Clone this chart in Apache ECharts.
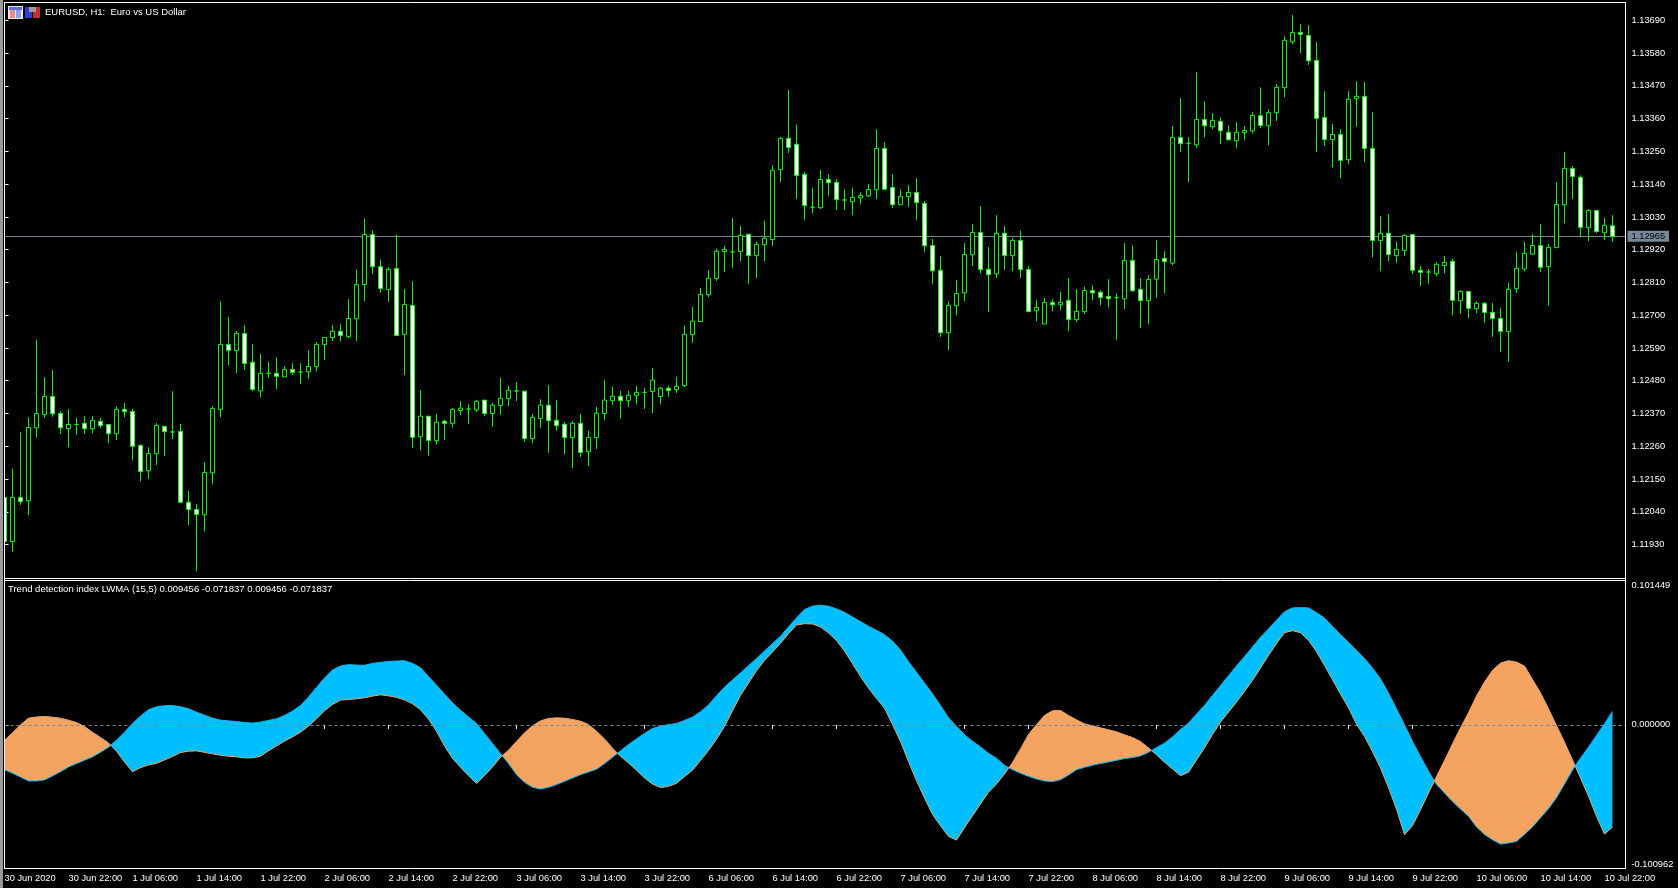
<!DOCTYPE html>
<html>
<head>
<meta charset="utf-8">
<style>html,body{margin:0;padding:0;background:#000;overflow:hidden}#c{width:1678px;height:888px}</style>
<script src="https://cdn.jsdelivr.net/npm/echarts@6/dist/echarts.min.js"></script>
</head>
<body>
<div id="c"></div>
<script>
const opens=[1.12088,1.11940,1.12088,1.12077,1.12322,1.12366,1.12427,1.12370,1.12319,1.12333,1.12337,1.12319,1.12344,1.12333,1.12302,1.12384,1.12377,1.12263,1.12178,1.12235,1.12327,1.12308,1.12310,1.12072,1.12048,1.12030,1.12171,1.12384,1.12602,1.12581,1.12639,1.12542,1.12446,1.12505,1.12505,1.12493,1.12518,1.12509,1.12510,1.12527,1.12602,1.12625,1.12646,1.12628,1.12688,1.12803,1.12971,1.12863,1.12786,1.12857,1.12636,1.12733,1.12292,1.12361,1.12279,1.12344,1.12337,1.12380,1.12385,1.12382,1.12415,1.12370,1.12397,1.12420,1.12446,1.12445,1.12286,1.12353,1.12398,1.12347,1.12334,1.12289,1.12337,1.12242,1.12289,1.12370,1.12413,1.12428,1.12413,1.12431,1.12441,1.12444,1.12427,1.12455,1.12450,1.12464,1.12635,1.12679,1.12769,1.12823,1.12914,1.12912,1.12914,1.12972,1.12900,1.12937,1.12954,1.13189,1.13294,1.13274,1.13173,1.13063,1.13061,1.13156,1.13146,1.13087,1.13081,1.13094,1.13101,1.13121,1.13260,1.13129,1.13071,1.13098,1.13112,1.13075,1.12934,1.12851,1.12641,1.12732,1.12775,1.12903,1.12978,1.12854,1.12839,1.12975,1.12900,1.12951,1.12854,1.12715,1.12671,1.12743,1.12735,1.12750,1.12685,1.12712,1.12783,1.12777,1.12763,1.12759,1.12755,1.12884,1.12787,1.12749,1.12821,1.12891,1.12875,1.13297,1.13277,1.13272,1.13357,1.13333,1.13351,1.13314,1.13286,1.13313,1.13319,1.13370,1.13336,1.13380,1.13464,1.13618,1.13649,1.13639,1.13555,1.13364,1.13290,1.13307,1.13222,1.13427,1.13435,1.13260,1.12951,1.12975,1.12900,1.12918,1.12971,1.12851,1.12845,1.12839,1.12867,1.12881,1.12749,1.12780,1.12722,1.12740,1.12709,1.12689,1.12645,1.12789,1.12855,1.12905,1.12934,1.12863,1.12927,1.13071,1.13193,1.13163,1.12994,1.13052,1.12977,1.13000];
const closes=[1.11940,1.12088,1.12074,1.12323,1.12370,1.12427,1.12369,1.12322,1.12333,1.12333,1.12319,1.12347,1.12329,1.12302,1.12384,1.12376,1.12260,1.12175,1.12236,1.12330,1.12309,1.12308,1.12072,1.12047,1.12031,1.12172,1.12387,1.12602,1.12582,1.12639,1.12538,1.12451,1.12505,1.12505,1.12495,1.12518,1.12508,1.12509,1.12528,1.12602,1.12625,1.12646,1.12632,1.12689,1.12803,1.12971,1.12863,1.12790,1.12854,1.12632,1.12736,1.12290,1.12361,1.12279,1.12341,1.12337,1.12384,1.12388,1.12385,1.12411,1.12370,1.12398,1.12421,1.12448,1.12446,1.12286,1.12357,1.12398,1.12346,1.12329,1.12289,1.12337,1.12239,1.12290,1.12371,1.12415,1.12428,1.12413,1.12431,1.12441,1.12441,1.12482,1.12455,1.12447,1.12461,1.12636,1.12680,1.12770,1.12824,1.12915,1.12921,1.12912,1.12968,1.12900,1.12938,1.12958,1.13187,1.13294,1.13263,1.13169,1.13068,1.13063,1.13156,1.13145,1.13088,1.13087,1.13096,1.13102,1.13122,1.13260,1.13123,1.13071,1.13099,1.13112,1.13078,1.12933,1.12849,1.12641,1.12733,1.12773,1.12904,1.12978,1.12853,1.12836,1.12975,1.12900,1.12951,1.12853,1.12712,1.12726,1.12743,1.12735,1.12743,1.12685,1.12713,1.12783,1.12775,1.12759,1.12755,1.12759,1.12884,1.12782,1.12749,1.12820,1.12887,1.12880,1.13297,1.13276,1.13277,1.13357,1.13336,1.13354,1.13319,1.13289,1.13314,1.13320,1.13371,1.13337,1.13380,1.13465,1.13623,1.13649,1.13643,1.13554,1.13361,1.13290,1.13307,1.13220,1.13425,1.13435,1.13260,1.12951,1.12975,1.12904,1.12921,1.12968,1.12851,1.12844,1.12845,1.12871,1.12877,1.12750,1.12780,1.12723,1.12740,1.12709,1.12689,1.12646,1.12787,1.12857,1.12908,1.12934,1.12861,1.12928,1.13072,1.13193,1.13166,1.12995,1.13052,1.12981,1.13002,1.12965];
const lows=[1.11918,1.11906,1.12063,1.12029,1.12289,1.12355,1.12359,1.12301,1.12257,1.12298,1.12301,1.12304,1.12321,1.12271,1.12281,1.12358,1.12214,1.12143,1.12150,1.12197,1.12227,1.12284,1.12072,1.11996,1.11841,1.11975,1.12133,1.12358,1.12533,1.12506,1.12516,1.12445,1.12425,1.12490,1.12452,1.12493,1.12499,1.12469,1.12486,1.12512,1.12549,1.12613,1.12613,1.12623,1.12613,1.12747,1.12838,1.12775,1.12745,1.12632,1.12499,1.12255,1.12246,1.12229,1.12266,1.12281,1.12323,1.12365,1.12336,1.12375,1.12362,1.12325,1.12365,1.12395,1.12412,1.12275,1.12271,1.12322,1.12238,1.12312,1.12234,1.12187,1.12224,1.12194,1.12251,1.12348,1.12399,1.12352,1.12392,1.12402,1.12385,1.12372,1.12402,1.12426,1.12439,1.12459,1.12607,1.12679,1.12761,1.12815,1.12845,1.12859,1.12882,1.12805,1.12825,1.12882,1.12933,1.13147,1.13245,1.13090,1.13020,1.13043,1.13057,1.13100,1.13053,1.13053,1.13036,1.13073,1.13097,1.13090,1.13120,1.13060,1.13071,1.13063,1.13019,1.12912,1.12805,1.12627,1.12583,1.12700,1.12747,1.12865,1.12841,1.12711,1.12825,1.12852,1.12848,1.12825,1.12712,1.12680,1.12671,1.12714,1.12717,1.12647,1.12677,1.12704,1.12751,1.12734,1.12727,1.12617,1.12721,1.12778,1.12657,1.12670,1.12758,1.12774,1.12868,1.13248,1.13147,1.13261,1.13298,1.13325,1.13275,1.13288,1.13261,1.13288,1.13311,1.13328,1.13271,1.13352,1.13432,1.13610,1.13580,1.13540,1.13248,1.13268,1.13197,1.13160,1.13207,1.13332,1.13214,1.12895,1.12848,1.12882,1.12875,1.12899,1.12838,1.12798,1.12805,1.12831,1.12841,1.12700,1.12704,1.12690,1.12707,1.12674,1.12627,1.12576,1.12543,1.12774,1.12848,1.12902,1.12845,1.12731,1.12927,1.13009,1.13090,1.12962,1.12949,1.12976,1.12952,1.12946];
const highs=[1.12113,1.12184,1.12307,1.12358,1.12617,1.12492,1.12516,1.12378,1.12385,1.12355,1.12361,1.12361,1.12355,1.12333,1.12393,1.12405,1.12385,1.12267,1.12257,1.12338,1.12327,1.12445,1.12335,1.12110,1.12066,1.12207,1.12395,1.12747,1.12694,1.12647,1.12667,1.12603,1.12570,1.12543,1.12559,1.12529,1.12539,1.12539,1.12583,1.12610,1.12625,1.12667,1.12670,1.12754,1.12854,1.13025,1.12986,1.12887,1.12861,1.12971,1.12788,1.12815,1.12449,1.12361,1.12369,1.12348,1.12388,1.12412,1.12402,1.12416,1.12415,1.12406,1.12490,1.12463,1.12476,1.12445,1.12369,1.12418,1.12466,1.12416,1.12341,1.12345,1.12369,1.12312,1.12392,1.12483,1.12459,1.12446,1.12446,1.12463,1.12456,1.12523,1.12459,1.12463,1.12493,1.12666,1.12728,1.12792,1.12852,1.12923,1.12933,1.13027,1.13000,1.12972,1.12946,1.13017,1.13204,1.13299,1.13456,1.13339,1.13181,1.13127,1.13188,1.13174,1.13157,1.13123,1.13127,1.13113,1.13140,1.13325,1.13281,1.13174,1.13123,1.13137,1.13160,1.13083,1.12956,1.12899,1.12747,1.12818,1.12942,1.13006,1.13066,1.12929,1.13036,1.12999,1.12959,1.12983,1.12865,1.12751,1.12758,1.12754,1.12778,1.12825,1.12788,1.12795,1.12801,1.12784,1.12821,1.12774,1.12942,1.12935,1.12825,1.12835,1.12952,1.12915,1.13335,1.13429,1.13298,1.13516,1.13419,1.13379,1.13365,1.13338,1.13348,1.13335,1.13382,1.13465,1.13392,1.13476,1.13637,1.13708,1.13677,1.13674,1.13617,1.13452,1.13342,1.13325,1.13452,1.13486,1.13483,1.13382,1.13033,1.13040,1.12946,1.12972,1.12971,1.12865,1.12855,1.12878,1.12899,1.12889,1.12784,1.12780,1.12747,1.12744,1.12741,1.12724,1.12808,1.12912,1.12946,1.12972,1.13006,1.12939,1.13147,1.13248,1.13201,1.13170,1.13056,1.13052,1.13026,1.13036];
const tdiFast=[-.0315,-.0340,-.0366,-.0394,-.0394,-.0387,-.0359,-.0329,-.0296,-.0272,-.0249,-.0225,-.0193,-.0157,-.0108,-.0052,.0009,.0061,.0106,.0127,.0134,.0136,.0127,.0113,.0089,.0068,.0047,.0033,.0028,.0023,.0016,.0012,.0019,.0031,.0042,.0066,.0096,.0136,.0195,.0263,.0329,.0385,.0413,.0423,.0420,.0418,.0432,.0439,.0446,.0448,.0451,.0432,.0402,.0340,.0279,.0216,.0155,.0103,.0056,.0009,-.0061,-.0131,-.0202,-.0272,-.0350,-.0404,-.0439,-.0451,-.0439,-.0420,-.0397,-.0373,-.0350,-.0331,-.0312,-.0272,-.0228,-.0183,-.0139,-.0099,-.0061,-.0026,-.0009,.0002,.0009,.0031,.0054,.0092,.0139,.0204,.0265,.0315,.0364,.0416,.0465,.0519,.0571,.0622,.0688,.0751,.0810,.0834,.0841,.0834,.0815,.0791,.0758,.0726,.0693,.0664,.0634,.0589,.0526,.0444,.0369,.0294,.0218,.0136,.0049,-.0009,-.0070,-.0115,-.0155,-.0200,-.0235,-.0284,-.0315,-.0340,-.0362,-.0380,-.0394,-.0399,-.0385,-.0352,-.0315,-.0298,-.0284,-.0272,-.0261,-.0249,-.0237,-.0230,-.0218,-.0193,-.0160,-.0129,-.0085,-.0033,.0012,.0075,.0136,.0207,.0275,.0345,.0413,.0479,.0547,.0615,.0674,.0735,.0794,.0822,.0824,.0822,.0789,.0751,.0693,.0634,.0580,.0524,.0467,.0399,.0324,.0223,.0113,.0000,-.0117,-.0223,-.0326,-.0418,-.0479,-.0538,-.0592,-.0643,-.0718,-.0770,-.0808,-.0838,-.0831,-.0819,-.0770,-.0718,-.0653,-.0589,-.0512,-.0416,-.0317,-.0235,-.0157,-.0075,.0007,.009456];
const tdiSlow=[-.0110,-.0056,.0000,.0047,.0056,.0059,.0054,.0047,.0033,.0016,-.0012,-.0052,-.0089,-.0127,-.0185,-.0261,-.0329,-.0301,-.0282,-.0270,-.0247,-.0223,-.0195,-.0185,-.0183,-.0193,-.0204,-.0214,-.0221,-.0225,-.0232,-.0232,-.0221,-.0183,-.0148,-.0115,-.0085,-.0052,-.0009,.0042,.0099,.0143,.0174,.0178,.0183,.0190,.0202,.0211,.0204,.0193,.0176,.0148,.0106,.0040,-.0045,-.0148,-.0235,-.0298,-.0357,-.0413,-.0357,-.0296,-.0228,-.0178,-.0117,-.0056,-.0007,.0028,.0045,.0049,.0047,.0038,.0026,.0002,-.0045,-.0099,-.0164,-.0221,-.0268,-.0319,-.0373,-.0416,-.0441,-.0432,-.0411,-.0364,-.0319,-.0251,-.0181,-.0101,-.0012,.0099,.0207,.0294,.0380,.0453,.0512,.0573,.0641,.0702,.0711,.0709,.0688,.0646,.0592,.0519,.0430,.0340,.0258,.0185,.0117,.0002,-.0117,-.0258,-.0392,-.0514,-.0629,-.0709,-.0784,-.0810,-.0723,-.0639,-.0556,-.0474,-.0416,-.0345,-.0265,-.0169,-.0068,.0002,.0066,.0099,.0101,.0066,.0035,.0007,-.0007,-.0021,-.0035,-.0049,-.0070,-.0089,-.0117,-.0162,-.0211,-.0263,-.0310,-.0357,-.0333,-.0247,-.0162,-.0068,.0019,.0089,.0160,.0235,.0312,.0399,.0488,.0571,.0648,.0662,.0648,.0594,.0514,.0418,.0317,.0216,.0120,.0005,-.0082,-.0188,-.0303,-.0441,-.0592,-.0772,-.0709,-.0596,-.0479,-.0364,-.0251,-.0134,-.0021,.0085,.0202,.0301,.0383,.0434,.0451,.0441,.0413,.0319,.0225,.0113,-.0005,-.0122,-.0247,-.0373,-.0502,-.0643,-.0768,-.071837];
const timeLabels=["30 Jun 2020","30 Jun 22:00","1 Jul 06:00","1 Jul 14:00","1 Jul 22:00","2 Jul 06:00","2 Jul 14:00","2 Jul 22:00","3 Jul 06:00","3 Jul 14:00","3 Jul 22:00","6 Jul 06:00","6 Jul 14:00","6 Jul 22:00","7 Jul 06:00","7 Jul 14:00","7 Jul 22:00","8 Jul 06:00","8 Jul 14:00","8 Jul 22:00","9 Jul 06:00","9 Jul 14:00","9 Jul 22:00","10 Jul 06:00","10 Jul 14:00","10 Jul 22:00"];
const priceTicks=[1.1369,1.1358,1.1347,1.1336,1.1325,1.1314,1.1303,1.1292,1.1281,1.127,1.1259,1.1248,1.1237,1.1226,1.1215,1.1204,1.1193];
const indicatorTicks=[-0.100962,0,0.101449];
const lastPrice=1.12965;
const titleMain="EURUSD, H1:  Euro vs US Dollar";
const titleIndicator="Trend detection index LWMA (15,5) 0.009456 -0.071837 0.009456 -0.071837";

const FONT='"Liberation Sans"', FS=9.5, AXFS=9.3;
const BLUE='#00BFFF', SAND='#F4A460', GREEN='#00FF00', SLATE='#778899';

const bars=opens.map((o,i)=>[i,o,closes[i],lows[i],highs[i]]);
const fillData=tdiFast.map((a,i)=>[i,a,tdiSlow[i]]);
const xCommon={type:'value',min:0,max:202.625,interval:8,splitLine:{show:false},axisLine:{show:false}};

// Split the band between the two indicator lines into one solid polygon per crossing-free stretch.
function bandRegions(){
  const regions=[];
  let upper=[],lower=[],sign=0;
  const close=()=>{ if(upper.length) regions.push({color:sign>0?BLUE:SAND,pts:upper.concat(lower.slice().reverse())}); };
  tdiFast.forEach((a,i)=>{
    const b=tdiSlow[i],s=a-b>=0?1:-1;
    if(sign&&s!==sign){
      const d0=tdiFast[i-1]-tdiSlow[i-1],d1=a-b,t=d0/(d0-d1);
      const c=[i-1+t,tdiFast[i-1]+(a-tdiFast[i-1])*t];
      upper.push(c);lower.push(c);close();
      upper=[c];lower=[c];
    }
    sign=s;upper.push([i,a]);lower.push([i,b]);
  });
  close();
  return regions;
}
const regions=bandRegions();
function renderFill(params,api){
  if(params.dataIndex!==0) return null;
  return {type:'group',children:regions.map(r=>({type:'polygon',shape:{points:r.pts.map(p=>api.coord(p))},style:{fill:r.color}}))};
}

const over=(x,y,width,height,fill)=>({type:'rect',z:100,silent:true,shape:{x,y,width,height},style:{fill}});

const chart=echarts.init(document.getElementById('c'),null,{renderer:'canvas'});
chart.setOption({
  animation:false,
  backgroundColor:'#000',
  title:[
    {text:titleMain,left:45,top:5,padding:[2,0,0,0],textStyle:{color:'#fff',fontFamily:FONT,fontSize:FS,fontWeight:'normal'}},
    {text:titleIndicator,left:8,top:582,padding:[2,0,0,0],textStyle:{color:'#fff',fontFamily:FONT,fontSize:FS,fontWeight:'normal'}}
  ],
  grid:[
    {left:4.5,top:2.5,width:1621,height:576,show:true,borderColor:'#fff',borderWidth:1,backgroundColor:'#000'},
    {left:4.5,top:580.5,width:1621,height:288,show:true,borderColor:'#fff',borderWidth:1,backgroundColor:'#000'}
  ],
  xAxis:[
    Object.assign({gridIndex:0,axisTick:{show:false},axisLabel:{show:false}},xCommon),
    Object.assign({gridIndex:1,position:'bottom',
      axisTick:{show:true,length:4,lineStyle:{color:'#fff'}},
      axisLabel:{show:true,color:'#fff',fontFamily:FONT,fontSize:AXFS,align:'left',margin:5,showMinLabel:true,showMaxLabel:false,
        formatter:v=>timeLabels[v/8]||''}},xCommon)
  ],
  yAxis:[
    {gridIndex:0,type:'value',position:'right',min:1.11816,max:1.13750,splitLine:{show:false},axisLine:{show:false},
      axisTick:{show:true,length:4,lineStyle:{color:'#fff'},customValues:priceTicks},
      axisLabel:{color:'#fff',fontFamily:FONT,fontSize:AXFS,margin:6,customValues:priceTicks,formatter:v=>v.toFixed(5)}},
    {gridIndex:1,type:'value',position:'right',min:-0.100962,max:0.101449,splitLine:{show:false},axisLine:{show:false},
      axisTick:{show:true,length:4,lineStyle:{color:'#fff'},customValues:indicatorTicks},
      axisLabel:{color:'#fff',fontFamily:FONT,fontSize:AXFS,margin:6,customValues:indicatorTicks,
        verticalAlignMaxLabel:'top',verticalAlignMinLabel:'bottom',formatter:v=>v.toFixed(6)}}
  ],
  series:[
    {type:'line',xAxisIndex:0,yAxisIndex:0,data:[],z:1,silent:true,
      markLine:{silent:true,z:1,symbol:'none',animation:false,precision:5,
        lineStyle:{color:SLATE,type:'solid',width:1},
        label:{show:true,position:'end',distance:2,color:'#000',backgroundColor:SLATE,fontFamily:FONT,fontSize:AXFS,padding:[1,4,1,4],formatter:()=>lastPrice.toFixed(5)},
        data:[{yAxis:lastPrice}]}},
    {type:'candlestick',xAxisIndex:0,yAxisIndex:0,z:3,data:bars,encode:{x:0,y:[1,2,3,4]},barWidth:5,
      itemStyle:{color:'#000',color0:'#fff',borderColor:GREEN,borderColor0:GREEN,borderColorDoji:GREEN,borderWidth:1}},
    {type:'custom',xAxisIndex:1,yAxisIndex:1,z:2,data:fillData,encode:{x:0,y:[1,2]},renderItem:renderFill,silent:true},
    {type:'line',xAxisIndex:1,yAxisIndex:1,z:3,data:tdiFast.map((v,i)=>[i,v]),showSymbol:false,lineStyle:{color:BLUE,width:1},silent:true},
    {type:'line',xAxisIndex:1,yAxisIndex:1,z:3,data:tdiSlow.map((v,i)=>[i,v]),showSymbol:false,lineStyle:{color:SAND,width:1},silent:true,
      markLine:{silent:true,z:4,symbol:'none',animation:false,precision:6,label:{show:false},
        lineStyle:{color:SLATE,type:[3,3],width:1},data:[{yAxis:0}]}}
  ],
  graphic:[
    over(0,0,3,888,'#9a9a9a'),
    over(3,0,1,888,'#000'),
    over(4,2,1,867,'#fff'),
    over(1625,2,1,867,'#fff'),
    over(8,6,15,13,'#e8e8f0'),
    over(9,7,13,3,'#5a6ee0'),
    over(10,10,5,8,'#f08a7a'),
    over(16,10,5,8,'#8aa0f0'),
    over(25,7,7,11,'#2a3fd0'),
    over(33,7,7,11,'#c03030'),
    over(29,7,7,5,'#9a9a9a')
  ]
});
</script>
</body>
</html>
